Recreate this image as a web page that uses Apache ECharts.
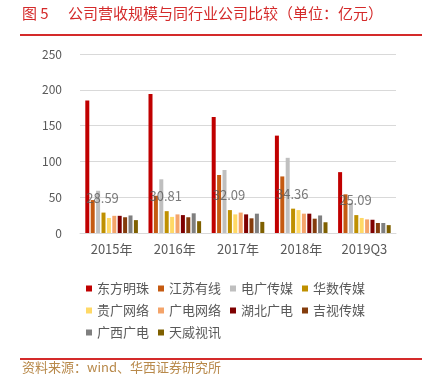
<!DOCTYPE html>
<html>
<head>
<meta charset="utf-8">
<script src="https://cdn.jsdelivr.net/npm/echarts@6/dist/echarts.min.js"></script>
<style>
html,body{margin:0;padding:0;background:#fff;}
#tu_1{width:429px;height:375px;}
</style>
</head>
<body>
<div id="tu_1"></div>
<script>
// 年份
var years = ['2015年', '2016年', '2017年', '2018年', '2019Q3'];
// 各公司营收（亿元）
var dfmz = [185, 194, 162, 136, 85];
var jsyx = [46, 52, 81, 79, 54];
var dgcm = [59, 75, 88, 105, 42];
var hscm = [28.5, 30.5, 32, 34, 25];
var ggwl = [21, 22.5, 26, 32, 21];
var gdwl = [24, 26, 28.5, 27, 19];
var hbgd = [24, 25, 26, 27, 18.5];
var jscm = [22, 22, 20.5, 20, 14];
var gxgd = [24.5, 27.5, 27, 24.5, 14];
var twsx = [18, 16.5, 15.5, 15, 11];
// 同行业平均
var avg = [28.59, 30.81, 32.09, 34.36, 25.09];

var names = ['东方明珠', '江苏有线', '电广传媒', '华数传媒', '贵广网络', '广电网络', '湖北广电', '吉视传媒', '广西广电', '天威视讯'];
var colors = ['#C00000', '#C55A11', '#BFBFBF', '#BF9000', '#FFD966', '#F4A46A', '#7F0000', '#843C0C', '#7F7F7F', '#7F6000'];
var datas = [dfmz, jsyx, dgcm, hscm, ggwl, gdwl, hbgd, jscm, gxgd, twsx];

var myChart_1 = echarts.init(document.getElementById('tu_1'));
var series = [];
for (var i = 0; i < names.length; i++) {
	series.push({
		name: names[i],
		type: 'bar',
		barWidth: 4,
		barGap: '35%',
		itemStyle: {color: colors[i]},
		data: datas[i]
	});
}
series.push({
	name: '平均',
	type: 'scatter',
	symbolSize: 0,
	label: {
		show: true,
		position: 'top',
		distance: 8,
		offset: [-9, 0],
		color: '#595959',
		fontSize: 13,
		fontFamily: 'Noto Sans CJK SC',
		formatter: function (p) { return p.value.toFixed(2); }
	},
	z: 5,
	data: avg
});

var option = {
	animation: false,
	textStyle: {fontFamily: 'Noto Sans CJK SC'},
	color: colors,
	grid: {left: 80, right: 33, top: 54, bottom: 142},
	xAxis: {
		type: 'category',
		data: years,
		axisLine: {lineStyle: {color: '#D9D9D9'}},
		axisTick: {show: false},
		axisLabel: {color: '#595959', fontSize: 13, margin: 10}
	},
	yAxis: {
		type: 'value',
		min: 0,
		max: 250,
		interval: 50,
		axisLine: {show: false},
		axisTick: {show: false},
		axisLabel: {color: '#595959', fontSize: 12, margin: 18},
		splitLine: {lineStyle: {color: '#D9D9D9'}}
	},
	legend: {
		data: names,
		left: 81,
		top: 277,
		width: 300,
		itemWidth: 6,
		itemHeight: 6,
		itemGap: 9,
		icon: 'rect',
		textStyle: {color: '#595959', fontSize: 13}
	},
	graphic: [
		{type: 'text', left: 22, top: 6, style: {text: '图 5', fill: '#D42A2A', font: '15px "Noto Sans CJK SC"'}},
		{type: 'text', left: 68, top: 6, style: {text: '公司营收规模与同行业公司比较（单位：亿元）', fill: '#D42A2A', font: '15px "Noto Sans CJK SC"'}},
		{type: 'rect', shape: {x: 20, y: 34, width: 402, height: 2}, style: {fill: '#D42A2A'}},
		{type: 'rect', shape: {x: 20, y: 358, width: 402, height: 2}, style: {fill: '#D42A2A'}},
		{type: 'text', left: 22, top: 361, style: {text: '资料来源：wind、华西证券研究所', fill: '#B8894A', font: '13px "Noto Sans CJK SC"'}}
	],
	series: series
};
myChart_1.setOption(option);
</script>
</body>
</html>
